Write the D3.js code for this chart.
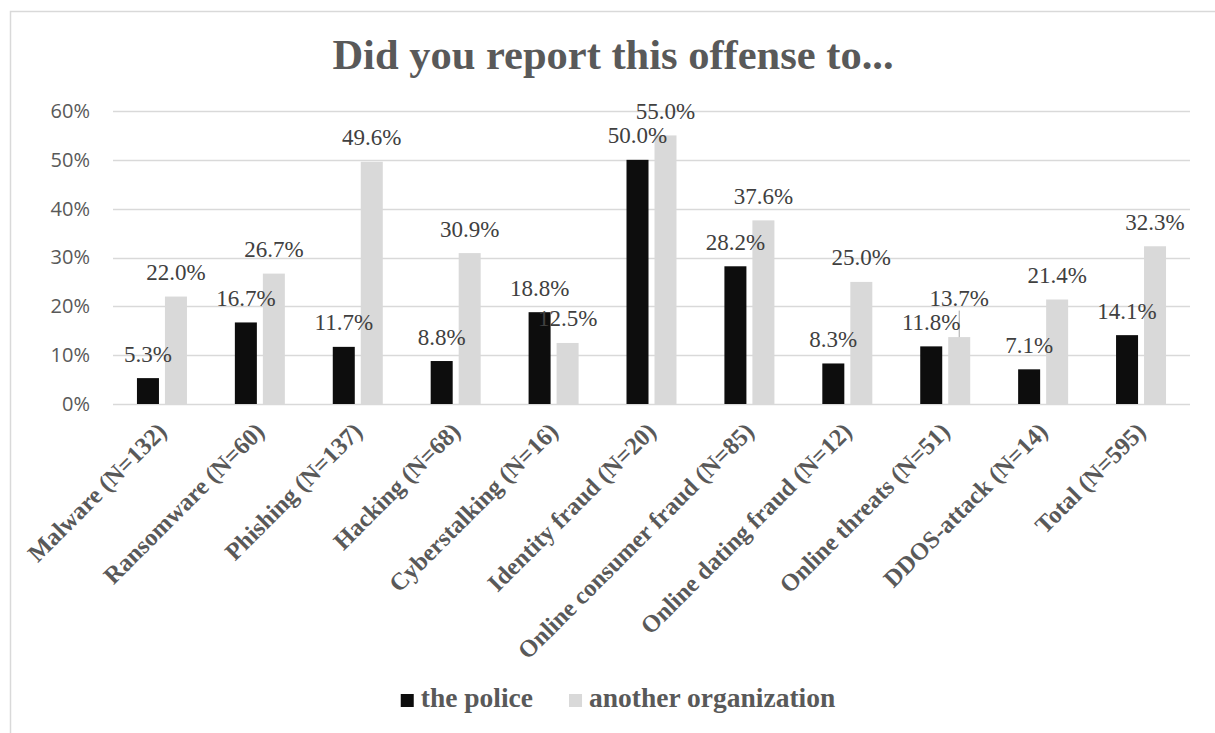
<!DOCTYPE html>
<html>
<head>
<meta charset="utf-8">
<script src="https://cdn.jsdelivr.net/npm/d3@7"></script>
<style>
  html, body { margin: 0; padding: 0; background: #fff; }
  svg { display: block; }
</style>
</head>
<body>
<div id="chart"></div>
<script>
const categories = ["Malware (N=132)", "Ransomware (N=60)", "Phishing (N=137)", "Hacking (N=68)",
  "Cyberstalking (N=16)", "Identity fraud (N=20)", "Online consumer fraud (N=85)",
  "Online dating fraud (N=12)", "Online threats (N=51)", "DDOS-attack (N=14)", "Total (N=595)"];
const seriesNames = ["the police", "another organization"];
const policeValues = [5.3, 16.7, 11.7, 8.8, 18.8, 50.0, 28.2, 8.3, 11.8, 7.1, 14.1];
const otherValues = [22.0, 26.7, 49.6, 30.9, 12.5, 55.0, 37.6, 25.0, 13.7, 21.4, 32.3];
const yTicks = [0, 10, 20, 30, 40, 50, 60];
const titleText = "Did you report this offense to...";

const W = 1215, H = 733;
const colors = ["#0d0d0d", "#d9d9d9"];
const plot = { left: 113, right: 1190, top: 111, bottom: 404 };
const serif = "Liberation Serif";

const svg = d3.select("#chart").append("svg").attr("width", W).attr("height", H);

svg.append("rect").attr("x", 10.5).attr("y", 11.5).attr("width", W).attr("height", H)
  .attr("fill", "#fff").attr("stroke", "#d9d9d9").attr("stroke-width", 1.5);

svg.append("text").attr("x", 613).attr("y", 69).attr("text-anchor", "middle")
  .attr("font-family", serif)
  .attr("font-weight", "bold").attr("font-size", 42.5).attr("fill", "#595959")
  .text(titleText);

const x0 = d3.scaleBand().domain(categories).range([plot.left, plot.right]).padding(0);
const groupW = 50;
const x1 = d3.scaleBand().domain(seriesNames).range([0, groupW]).paddingInner(0.214).paddingOuter(0);
const y = d3.scaleLinear().domain([0, 60]).range([plot.bottom, plot.top]);

svg.append("g").selectAll("line").data(yTicks).join("line")
  .attr("x1", plot.left).attr("x2", plot.right)
  .attr("y1", d => Math.round(y(d)) + 0.5).attr("y2", d => Math.round(y(d)) + 0.5)
  .attr("stroke", "#d9d9d9").attr("stroke-width", 1.5);

const yAxis = d3.axisLeft(y).tickValues(yTicks).tickFormat(d => d + "%").tickSize(0).tickPadding(0);
const yg = svg.append("g").attr("transform", "translate(90,0)").call(yAxis);
yg.select(".domain").remove();
yg.selectAll("text").attr("font-family", "Open Sans")
  .attr("font-size", 20).attr("fill", "#595959");

const groupOffset = (x0.bandwidth() - groupW) / 2;
const labelShift = { "1-8": 15 }; // label moved up with a leader line
const marks = [];
categories.forEach((c, i) => {
  [policeValues[i], otherValues[i]].forEach((v, s) => {
    const bx = x0(c) + groupOffset + x1(seriesNames[s]);
    marks.push({ i, s, v, bx, bw: x1.bandwidth(), shift: labelShift[s + "-" + i] || 0 });
  });
});

svg.append("g").selectAll("rect").data(marks).join("rect")
  .attr("x", d => d.bx).attr("y", d => y(d.v)).attr("width", d => d.bw)
  .attr("height", d => y(0) - y(d.v)).attr("fill", d => colors[d.s]);

svg.append("g").selectAll("line").data(marks.filter(d => d.shift)).join("line")
  .attr("x1", d => d.bx + d.bw / 2).attr("x2", d => d.bx + d.bw / 2)
  .attr("y1", d => y(d.v) - 16.5 - d.shift + 5).attr("y2", d => y(d.v))
  .attr("stroke", "#a6a6a6").attr("stroke-width", 1);

svg.append("g").selectAll("text").data(marks).join("text")
  .attr("x", d => d.bx + d.bw / 2).attr("y", d => y(d.v) - 16.5 - d.shift)
  .attr("text-anchor", "middle")
  .attr("font-family", serif)
  .attr("font-size", 23).attr("fill", "#404040")
  .text(d => d.v.toFixed(1) + "%");

const xl = svg.append("g");
categories.forEach(c => {
  const cx = x0(c) + x0.bandwidth() / 2;
  xl.append("text")
    .attr("transform", `translate(${cx + 6},${plot.bottom + 29}) rotate(-45)`)
    .attr("text-anchor", "end")
    .attr("font-family", serif)
    .attr("font-weight", "bold").attr("font-size", 24.5).attr("fill", "#595959")
    .text(c);
});

const leg = svg.append("g");
const legFont = 27.5;
let lx = 0;
seriesNames.forEach((n, i) => {
  const it = leg.append("g").attr("transform", `translate(${lx},0)`);
  it.append("rect").attr("x", 0).attr("y", -13).attr("width", 13).attr("height", 13).attr("fill", colors[i]);
  const t = it.append("text").attr("x", 20).attr("y", 0)
    .attr("font-family", serif)
    .attr("font-weight", "bold").attr("font-size", legFont).attr("fill", "#595959").text(n);
  const tw = t.node().getComputedTextLength();
  lx += 20 + tw + 36;
});
const legW = lx - 36;
leg.attr("transform", `translate(${618 - legW / 2},707)`);
</script>
</body>
</html>
